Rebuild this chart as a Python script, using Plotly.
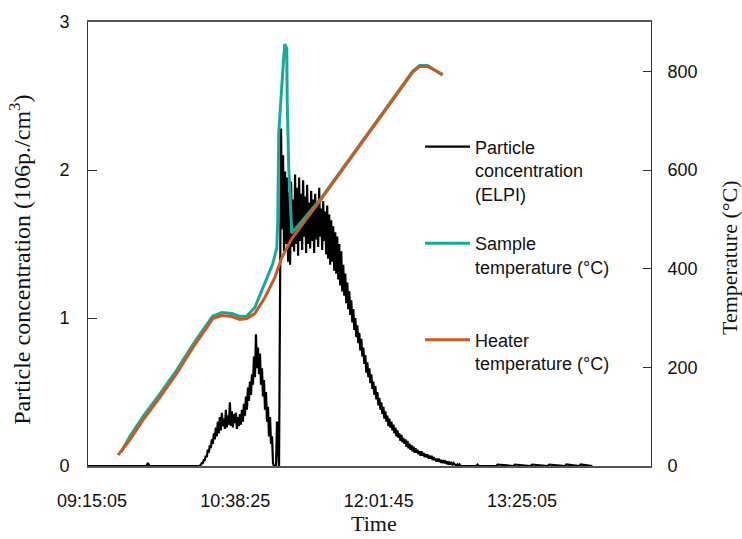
import plotly.graph_objects as go

# ---- Data (elapsed seconds from 09:15:05) ----
tick_seconds = [0, 5000, 10000, 15000]
tick_labels = ["09:15:05", "10:38:25", "12:01:45", "13:25:05"]

heater_t = [906, 1324, 1777, 2369, 2961, 3519, 4007, 4216, 4530, 4878, 5156, 5400,
            5679, 6028, 6376, 6620, 6969, 7944, 10035, 11184, 11429, 11707, 12230]
heater_T = [22, 53, 93, 139, 188, 240, 281, 299, 305, 303, 297, 299,
            309, 341, 382, 422, 461, 537, 705, 798, 810, 810, 794]

sample_t = [1010, 1324, 1777, 2369, 2961, 3519, 4007, 4216, 4530, 4878, 5156, 5400,
            5679, 6028, 6306, 6446, 6480, 6515, 6585, 6655, 6690, 6725, 6794, 6810,
            6864, 6969, 7944, 10035, 11184, 11429, 11707, 12230]
sample_T = [28, 60, 100, 146, 195, 246, 287, 304, 311, 309, 303, 304,
            321, 370, 410, 442, 497, 675, 745, 790, 830, 855, 846, 739,
            604, 472, 539, 707, 800, 812, 812, 792]

elpi_pre_t = [-139, 1900, 1951, 2000, 3655]
elpi_pre_v = [0.0, 0.0, 0.02, 0.0, 0.0]

elpi_dense_start = 3690
elpi_dense_step = 35
elpi_dense_v = [
    0.00, 0.00, 0.00, 0.01, 0.02, 0.02, 0.04, 0.04, 0.07, 0.06,
    0.11, 0.09, 0.14, 0.12, 0.18, 0.15, 0.22, 0.18, 0.26, 0.20,
    0.30, 0.22, 0.33, 0.24, 0.36, 0.27, 0.32, 0.25, 0.38, 0.26,
    0.34, 0.28, 0.43, 0.27, 0.37, 0.26, 0.35, 0.29, 0.36, 0.25,
    0.33, 0.27, 0.35, 0.28, 0.38, 0.30, 0.42, 0.34, 0.47, 0.38,
    0.53, 0.44, 0.57, 0.48, 0.62, 0.55, 0.74, 0.60, 0.89, 0.66,
    0.80, 0.62, 0.76, 0.55, 0.66, 0.47, 0.58, 0.38, 0.50, 0.30,
    0.40, 0.20, 0.33, 0.15, 0.20, 0.02, 0.00, 0.00, 0.00, 0.30,
    0.12, 0.00, 1.15, 2.28, 1.60, 2.10, 1.45, 1.99, 1.50, 1.95,
    1.38, 1.85, 1.36, 1.92, 1.48, 1.80, 1.45, 1.97, 1.50, 1.88,
    1.42, 1.95, 1.52, 1.84, 1.46, 1.93, 1.55, 1.82, 1.44, 1.90,
    1.50, 1.78, 1.47, 1.86, 1.52, 1.80, 1.44, 1.84, 1.53, 1.76,
    1.48, 1.88, 1.55, 1.74, 1.46, 1.79, 1.52, 1.72, 1.43, 1.76,
    1.40, 1.70, 1.36, 1.66, 1.38, 1.62, 1.32, 1.58, 1.30, 1.55,
    1.26, 1.50, 1.22, 1.45, 1.18, 1.36, 1.15, 1.30, 1.10, 1.24,
    1.06, 1.18, 1.02, 1.12, 0.97, 1.06, 0.92, 1.00, 0.87, 0.95,
    0.83, 0.90, 0.78, 0.86, 0.74, 0.80, 0.69, 0.75, 0.63, 0.70,
    0.60, 0.66, 0.56, 0.62, 0.52, 0.57, 0.48, 0.54, 0.45, 0.50,
    0.41, 0.46, 0.38, 0.43, 0.35, 0.40, 0.32, 0.37, 0.30, 0.34,
    0.27, 0.32, 0.26, 0.30, 0.24, 0.28, 0.22, 0.26, 0.20, 0.24,
    0.19, 0.22, 0.17, 0.21, 0.16, 0.19, 0.15, 0.18, 0.13, 0.17,
    0.12, 0.15, 0.11, 0.14, 0.10, 0.13, 0.09, 0.12, 0.09, 0.11,
    0.08, 0.10, 0.07, 0.10, 0.07, 0.09, 0.06, 0.08, 0.06, 0.08,
    0.05, 0.07, 0.05, 0.07, 0.04, 0.06, 0.04, 0.05, 0.03, 0.05,
    0.03, 0.04, 0.03, 0.04, 0.02, 0.04, 0.02, 0.03, 0.02, 0.03,
    0.01, 0.03, 0.01, 0.02, 0.01, 0.02, 0.01, 0.01, 0.00, 0.01,
    0.00, 0.01, 0.00,
]

elpi_post_t = [12900, 13400, 13450, 13500, 14100, 14150, 14700, 14750, 15300,
               15350, 15900, 15950, 16500, 16550, 17000, 17050, 17455]
elpi_post_v = [0.0, 0.0, 0.01, 0.0, 0.0, 0.01, 0.0, 0.01, 0.0,
               0.01, 0.0, 0.01, 0.0, 0.01, 0.0, 0.01, 0.0]

x_range = [-139, 19500]
y_left_range = [0, 3]
y_right_range = [0, 900]

elpi_t = (elpi_pre_t
          + [elpi_dense_start + i * elpi_dense_step for i in range(len(elpi_dense_v))]
          + elpi_post_t)
elpi_v = elpi_pre_v + elpi_dense_v + elpi_post_v

TEAL = "#15aa9c"
ORANGE = "#cc5a1e"
SANS = "Liberation Sans, Arial, sans-serif"
SERIF = "Liberation Serif, Times New Roman, serif"

fig = go.Figure()
fig.add_trace(go.Scatter(x=sample_t, y=sample_T, yaxis="y2", mode="lines",
                         line=dict(color=TEAL, width=3),
                         name="Sample<br>temperature (°C)", legend="legend2"))
fig.add_trace(go.Scatter(x=heater_t, y=heater_T, yaxis="y2", mode="lines",
                         line=dict(color=ORANGE, width=3),
                         name="Heater<br>temperature (°C)", legend="legend3"))
fig.add_trace(go.Scatter(x=elpi_t, y=elpi_v, mode="lines",
                         line=dict(color="black", width=2.2),
                         name="Particle<br>concentration<br>(ELPI)", legend="legend"))

def leg(y):
    return dict(x=(420 - 88) / 563, y=y, xanchor="left", yanchor="top", valign="top",
                bgcolor="rgba(0,0,0,0)", borderwidth=0, itemwidth=45,
                font=dict(family=SANS, size=18, color="#111"))

fig.update_layout(
    width=742, height=539,
    margin=dict(l=88, r=91, t=20, b=73),
    paper_bgcolor="white", plot_bgcolor="white",
    showlegend=True,
    legend=leg((466 - 127) / 446),
    legend2=leg((466 - 224) / 446),
    legend3=leg((466 - 321) / 446),
    xaxis=dict(range=x_range, tickvals=tick_seconds, ticktext=tick_labels,
               ticks="", showgrid=False, zeroline=False,
               showline=True, linecolor="#555", linewidth=1.5, mirror=True,
               layer="below traces", ticklabelstandoff=18,
               tickfont=dict(family=SANS, size=18, color="#111")),
    yaxis=dict(range=y_left_range, tickvals=[0, 1, 2, 3], ticks="inside", ticklen=9,
               tickcolor="#333", showgrid=False, zeroline=False,
               showline=True, linecolor="#333", linewidth=1, layer="below traces",
               ticklabelstandoff=14,
               tickfont=dict(family=SANS, size=18, color="#111")),
    yaxis2=dict(range=y_right_range, tickvals=[0, 200, 400, 600, 800], overlaying="y",
                side="right", ticks="inside", ticklen=8, tickcolor="#333",
                showgrid=False, zeroline=False, showline=True, linecolor="#333",
                linewidth=1, layer="below traces", ticklabelstandoff=12,
                tickfont=dict(family=SANS, size=18, color="#111")),
    annotations=[
        dict(text="Particle concentration (106p./cm<sup>3</sup>)", xref="paper", yref="paper",
             x=-0.121, y=(466 - 259) / 446, xanchor="center", yanchor="middle",
             textangle=-90, showarrow=False, font=dict(family=SERIF, size=24, color="#111")),
        dict(text="Temperature (°C)", xref="paper", yref="paper",
             x=(730 - 88) / 563, y=(466 - 257) / 446, xanchor="center", yanchor="middle",
             textangle=-90, showarrow=False, font=dict(family=SERIF, size=22, color="#111")),
        dict(text="Time", xref="paper", yref="paper",
             x=(374 - 88) / 563, y=(466 - 524) / 446, xanchor="center", yanchor="middle",
             showarrow=False, font=dict(family=SERIF, size=22, color="#111")),
    ],
)

fig.write_html("out.html", config={"displayModeBar": False},
               post_script="document.body.style.margin='0px';document.body.style.overflow='hidden';")
